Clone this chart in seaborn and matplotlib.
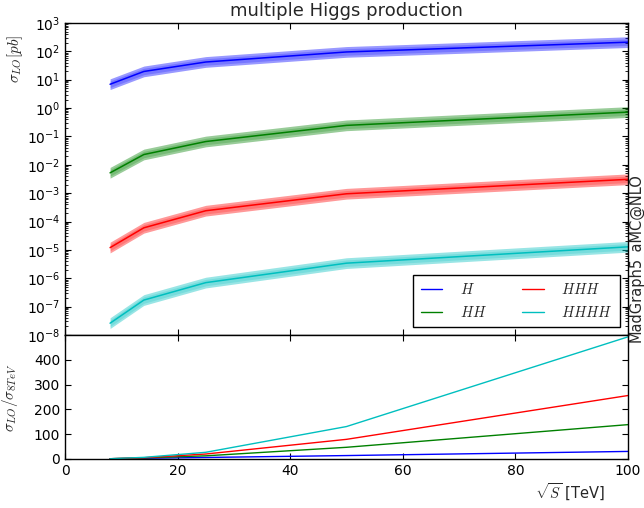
import numpy as np
import pandas as pd
import matplotlib
matplotlib.use('Agg')
import matplotlib.pyplot as plt
import seaborn as sns
from matplotlib.lines import Line2D
from matplotlib.ticker import LogLocator, MultipleLocator, NullFormatter

# collider energy in TeV
energies = [8, 14, 25, 50, 100]

# LO cross sections in pb
xs_H = [6.9, 19.5, 42.0, 95.0, 210.0]
xs_HH = [5.2e-3, 2.3e-2, 6.6e-2, 0.245, 0.72]
xs_HHH = [1.2e-5, 6.0e-5, 2.4e-4, 9.5e-4, 3.07e-3]
xs_HHHH = [2.6e-8, 1.7e-7, 7.0e-7, 3.4e-6, 1.28e-5]

processes = ['H', 'HH', 'HHH', 'HHHH']
labels = ['$H$', '$HH$', '$HHH$', '$HHHH$']
colors = {'H': 'b', 'HH': 'g', 'HHH': 'r', 'HHHH': 'c'}

# uncertainty band factors (down, up)
band_outer = (0.65, 1.55)
band_inner = (0.77, 1.3)

rows = []
for proc, vals in zip(processes, [xs_H, xs_HH, xs_HHH, xs_HHHH]):
    for e, v in zip(energies, vals):
        rows.append({'energy': e, 'process': proc, 'sigma': v, 'ratio': v / vals[0]})
df = pd.DataFrame(rows)

sns.set_style('ticks')
plt.rcParams.update({
    'font.family': ['DejaVu Sans'],
    'mathtext.fontset': 'cm',
    'axes.edgecolor': 'black',
    'axes.linewidth': 1.0,
    'xtick.color': 'black',
    'ytick.color': 'black',
    'xtick.direction': 'in',
    'ytick.direction': 'in',
    'xtick.top': True,
    'ytick.right': True,
    'xtick.major.size': 4,
    'ytick.major.size': 4,
    'xtick.minor.size': 2,
    'ytick.minor.size': 2,
    'xtick.major.pad': 3.5,
    'ytick.major.pad': 3.5,
    'xtick.labelsize': 10,
    'ytick.labelsize': 10,
})

fig = plt.figure(figsize=(6.44, 5.08), dpi=100)
ax1 = fig.add_axes([0.101, 0.3406, 0.874, 0.6142])
ax2 = fig.add_axes([0.101, 0.0965, 0.874, 0.2441], sharex=ax1)

for proc in processes:
    sub = df[df['process'] == proc]
    c = colors[proc]
    ax1.fill_between(sub['energy'], sub['sigma'] * band_outer[0], sub['sigma'] * band_outer[1],
                     color=c, alpha=0.4, lw=0)
    ax1.fill_between(sub['energy'], sub['sigma'] * band_inner[0], sub['sigma'] * band_inner[1],
                     color=c, alpha=0.22, lw=0)

sns.lineplot(data=df, x='energy', y='sigma', hue='process', hue_order=processes,
             palette=colors, ax=ax1, lw=1.1, legend=False, errorbar=None)
sns.lineplot(data=df, x='energy', y='ratio', hue='process', hue_order=processes,
             palette=colors, ax=ax2, lw=1.0, legend=False, errorbar=None)

ax1.set_yscale('log')
ax1.set_ylim(1e-8, 1e3)
ax1.set_xlim(0, 100)
ax1.yaxis.set_major_locator(LogLocator(base=10, numticks=30))
ax1.yaxis.set_minor_locator(LogLocator(base=10, subs=np.arange(2, 10), numticks=300))
ax1.yaxis.set_minor_formatter(NullFormatter())
ax1.xaxis.set_major_locator(MultipleLocator(20))
ax1.tick_params(labelbottom=False)
ax1.set_xlabel('')
ax1.set_ylabel(r'$\sigma_{LO}[pb]$', fontsize=11)
ax1.yaxis.set_label_coords(-0.072, 0.885)
ax1.set_title('multiple Higgs production', fontsize=13, pad=5)

handles = [Line2D([], [], color=colors[p], lw=1.0) for p in processes]
leg = ax1.legend(handles, labels, ncol=2, loc='lower right', fontsize=10.5,
                 frameon=True, fancybox=False, framealpha=1, edgecolor='black',
                 handlelength=1.5, handletextpad=1.2, columnspacing=2.4,
                 borderpad=0.5, labelspacing=0.5, borderaxespad=0.55)
leg.get_frame().set_linewidth(1.0)

ax2.set_ylim(0, 500)
ax2.set_yticks([0, 100, 200, 300, 400])
ax2.set_xlim(0, 100)
ax2.set_ylabel(r'$\sigma_{LO}/\sigma_{8TeV}$', fontsize=11)
ax2.yaxis.set_label_coords(-0.08, 0.49)
ax2.set_xlabel(r'$\sqrt{S}$ [TeV]', fontsize=10.5)
ax2.xaxis.set_label_coords(0.897, -0.185)

fig.text(637 / 644, 1 - 342 / 508, 'MadGraph5_aMC@NLO', rotation=90,
         ha='center', va='bottom', fontsize=10.5)

fig.savefig('out.png', dpi=100)
plt.close(fig)
